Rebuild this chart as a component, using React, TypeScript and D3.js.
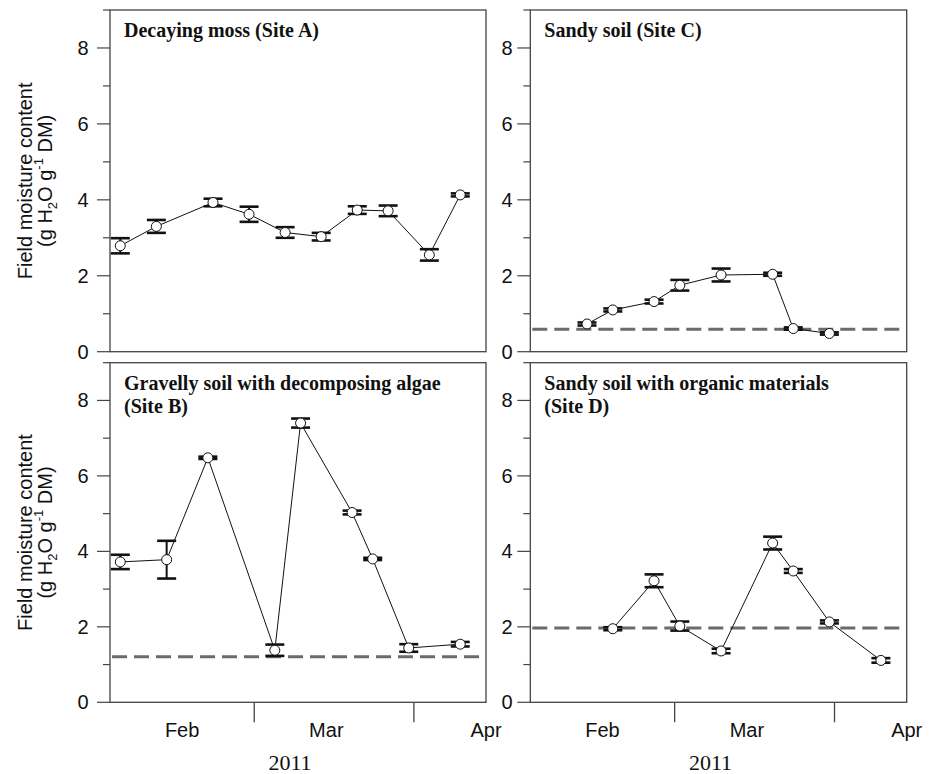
import React from "react";
import * as d3 from "d3";

// ---- Data ----
const siteADates = ["2011-02-03", "2011-02-10", "2011-02-21", "2011-02-28", "2011-03-07", "2011-03-14", "2011-03-21", "2011-03-27", "2011-04-04", "2011-04-10"];
const siteAValues = [2.79, 3.3, 3.93, 3.62, 3.14, 3.03, 3.73, 3.71, 2.55, 4.13];
const siteAErrors = [0.2, 0.17, 0.1, 0.2, 0.14, 0.1, 0.1, 0.14, 0.15, 0.04];

const siteBDates = ["2011-02-03", "2011-02-12", "2011-02-20", "2011-03-05", "2011-03-10", "2011-03-20", "2011-03-24", "2011-03-31", "2011-04-10"];
const siteBValues = [3.72, 3.78, 6.48, 1.38, 7.4, 5.03, 3.8, 1.44, 1.54];
const siteBErrors = [0.19, 0.5, 0.03, 0.15, 0.12, 0.05, 0.03, 0.1, 0.06];
const siteBRef = 1.21;

const siteCDates = ["2011-02-12", "2011-02-17", "2011-02-25", "2011-03-02", "2011-03-10", "2011-03-20", "2011-03-24", "2011-03-31"];
const siteCValues = [0.73, 1.1, 1.32, 1.75, 2.02, 2.04, 0.61, 0.48];
const siteCErrors = [0.04, 0.04, 0.05, 0.14, 0.17, 0.04, 0.03, 0.03];
const siteCRef = 0.59;

const siteDDates = ["2011-02-17", "2011-02-25", "2011-03-02", "2011-03-10", "2011-03-20", "2011-03-24", "2011-03-31", "2011-04-10"];
const siteDValues = [1.95, 3.22, 2.02, 1.36, 4.22, 3.48, 2.13, 1.11];
const siteDErrors = [0.04, 0.17, 0.12, 0.06, 0.17, 0.05, 0.04, 0.06];
const siteDRef = 1.97;

const xDomain = ["2011-02-01", "2011-04-15"];
const monthTicks = ["2011-03-01", "2011-04-01"];
const monthLabels = [
  { date: "2011-02-15", label: "Feb" },
  { date: "2011-03-15", label: "Mar" },
  { date: "2011-04-15", label: "Apr" },
];
const yearLabel = "2011";
const yMajor = [0, 2, 4, 6, 8];
const yMinor = [1, 3, 5, 7, 9];

const parse = d3.utcParse("%Y-%m-%d");

type Panel = {
  title: string[];
  dates: string[];
  values: number[];
  errors: number[];
  ref: number | null;
  col: number;
  row: number;
};

const panels: Panel[] = [
  { title: ["Decaying moss (Site A)"], dates: siteADates, values: siteAValues, errors: siteAErrors, ref: null, col: 0, row: 0 },
  { title: ["Sandy soil (Site C)"], dates: siteCDates, values: siteCValues, errors: siteCErrors, ref: siteCRef, col: 1, row: 0 },
  { title: ["Gravelly soil with decomposing algae", "(Site B)"], dates: siteBDates, values: siteBValues, errors: siteBErrors, ref: siteBRef, col: 0, row: 1 },
  { title: ["Sandy soil with organic materials", "(Site D)"], dates: siteDDates, values: siteDValues, errors: siteDErrors, ref: siteDRef, col: 1, row: 1 },
];

const colX = [
  { left: 110, right: 486, tickLabelX: 83 },
  { left: 530.3, right: 906.7, tickLabelX: 507 },
];
const rowY = [
  { top: 10, bottom: 351.7 },
  { top: 362.7, bottom: 702.3 },
];

const SANS = "'Liberation Sans', Arial, Helvetica, sans-serif";
const SERIF = "'Liberation Serif', 'Times New Roman', Times, serif";
const AXIS = "#444";

function PanelView({ p }: { p: Panel }) {
  const c = colX[p.col];
  const r = rowY[p.row];
  const x = d3.scaleUtc().domain(xDomain.map((d) => parse(d)!)).range([c.left, c.right]);
  const y = d3.scaleLinear().domain([0, 9]).range([r.bottom, r.top]);
  const pts = p.dates.map((d, i) => ({ date: parse(d)!, v: p.values[i], e: p.errors[i] }));
  const line = d3
    .line<{ date: Date; v: number }>()
    .x((d) => x(d.date))
    .y((d) => y(d.v));
  const capHalf = 9.5;
  const midY = (r.top + r.bottom) / 2;
  const midX = (c.left + c.right) / 2;
  return (
    <g>
      {/* y ticks */}
      {yMajor.map((t) => (
        <g key={"M" + t}>
          <line x1={c.left - 13} x2={c.left} y1={y(t)} y2={y(t)} stroke={AXIS} strokeWidth={1.2} />
          <text x={c.tickLabelX} y={y(t)} dy="0.35em" textAnchor="middle" fontFamily={SANS} fontSize={20} fill="#111">
            {t}
          </text>
        </g>
      ))}
      {yMinor.map((t) => (
        <line key={"m" + t} x1={c.left - 7} x2={c.left} y1={y(t)} y2={y(t)} stroke={AXIS} strokeWidth={1.2} />
      ))}
      {/* frame */}
      <rect x={c.left} y={r.top} width={c.right - c.left} height={r.bottom - r.top} fill="none" stroke={AXIS} strokeWidth={1.3} />
      {/* reference dashed line */}
      {p.ref !== null && (
        <line
          x1={c.left + 2}
          x2={c.right - 2}
          y1={y(p.ref)}
          y2={y(p.ref)}
          stroke="#6b6b6b"
          strokeWidth={3}
          strokeDasharray="15 7"
        />
      )}
      {/* connecting line */}
      <path d={line(pts) || ""} fill="none" stroke="#111" strokeWidth={1} />
      {/* error bars */}
      {pts.map((d, i) => (
        <g key={"e" + i} stroke="#111">
          <line x1={x(d.date)} x2={x(d.date)} y1={y(d.v - d.e)} y2={y(d.v + d.e)} strokeWidth={2} />
          <line x1={x(d.date) - capHalf} x2={x(d.date) + capHalf} y1={y(d.v + d.e)} y2={y(d.v + d.e)} strokeWidth={2.6} />
          <line x1={x(d.date) - capHalf} x2={x(d.date) + capHalf} y1={y(d.v - d.e)} y2={y(d.v - d.e)} strokeWidth={2.6} />
        </g>
      ))}
      {/* points */}
      {pts.map((d, i) => (
        <circle key={"c" + i} cx={x(d.date)} cy={y(d.v)} r={5} fill="#fff" stroke="#111" strokeWidth={1} />
      ))}
      {/* title */}
      {p.title.map((t, i) => (
        <text key={"t" + i} x={c.left + 14} y={r.top + 27 + i * 23.5} fontFamily={SERIF} fontWeight="bold" fontSize={20} fill="#111">
          {t}
        </text>
      ))}
      {/* y axis label (left column only) */}
      {p.col === 0 && (
        <g transform={`translate(0, ${midY}) rotate(-90)`}>
          <text x={0} y={32} textAnchor="middle" fontFamily={SANS} fontSize={20} fill="#111">
            Field moisture content
          </text>
          <text x={0} y={52} textAnchor="middle" fontFamily={SANS} fontSize={20} fill="#111">
            (g H<tspan fontSize={13} dy="5">2</tspan>
            <tspan dy="-5">O g</tspan>
            <tspan fontSize={13} dy="-9">-1</tspan>
            <tspan dy="9"> DM)</tspan>
          </text>
        </g>
      )}
      {/* x axis (bottom row only) */}
      {p.row === 1 && (
        <g>
          {monthTicks.map((t) => (
            <line key={t} x1={x(parse(t)!)} x2={x(parse(t)!)} y1={r.bottom} y2={r.bottom + 20} stroke={AXIS} strokeWidth={1.3} />
          ))}
          {monthLabels.map((m) => (
            <text key={m.label} x={x(parse(m.date)!)} y={r.bottom + 34.5} textAnchor="middle" fontFamily={SANS} fontSize={20} fill="#111">
              {m.label}
            </text>
          ))}
          <text x={midX - 8} y={770} textAnchor="middle" fontFamily={SERIF} fontSize={22} fill="#111">
            {yearLabel}
          </text>
        </g>
      )}
    </g>
  );
}

export default function App() {
  return (
    <svg width={934} height={774} style={{ position: "absolute", left: 0, top: 0, background: "#fff" }}>
      <rect x={0} y={0} width={934} height={774} fill="#fff" />
      {panels.map((p, i) => (
        <PanelView key={i} p={p} />
      ))}
    </svg>
  );
}
